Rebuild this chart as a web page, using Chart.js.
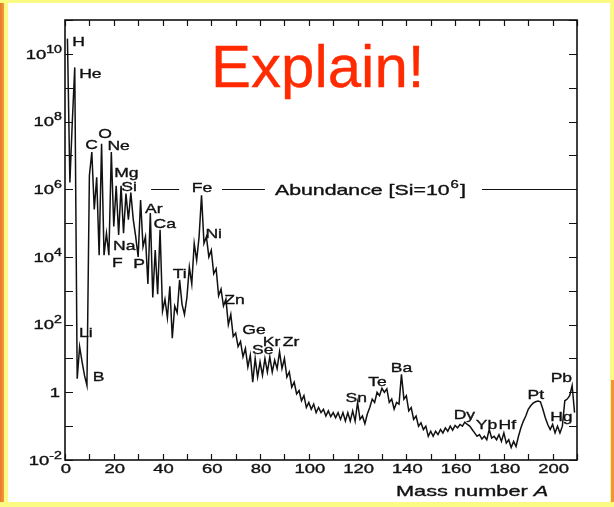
<!DOCTYPE html>
<html>
<head>
<meta charset="utf-8">
<script src="https://cdn.jsdelivr.net/npm/chart.js@4/dist/chart.umd.min.js"></script>
<style>
html,body{margin:0;padding:0;background:#fff;}
canvas{display:block;}
</style>
</head>
<body>
<canvas id="c" width="614" height="507"></canvas>
<script>
// ---- data ----
const massNumbers = Array.from({length: 209}, (_, i) => i + 1);
// log10 of abundance (Si = 10^6) for A = 1 .. 209
const logAbundance = [
 10.45, 6.2, 8.0, 9.6, 0.4, 1.35, 0.9, 0.5, 0.2, 6.4,
 7.1, 5.4, 6.35, 4.05, 7.34, 4.05, 4.7, 4.05, 7.1, 4.9,
 6.1, 4.65, 6.1, 4.7, 5.87, 5.1, 5.9, 5.1, 4.6, 4.0,
 5.68, 4.3, 4.6, 3.2, 5.3, 2.8, 4.2, 2.9, 4.8, 2.4,
 2.75, 2.2, 3.13, 1.6, 2.55, 2.35, 3.32, 2.6, 2.3, 2.8,
 3.7, 3.2, 4.4, 3.9, 4.6, 5.82, 4.4, 4.6, 4.0, 4.2,
 3.5, 3.65, 2.85, 3.05, 2.55, 2.75, 2.0, 2.3, 1.65, 1.75,
 1.35, 1.5, 1.05, 1.3, 0.75, 1.1, 0.3, 1.0, 0.45, 0.9,
 0.5, 1.0, 0.6, 1.05, 0.6, 0.95, 0.7, 1.2, 0.7, 1.0,
 0.45, 0.6, 0.15, 0.3, -0.05, 0.05, -0.25, -0.1, -0.45, -0.3,
 -0.5, -0.35, -0.6, -0.45, -0.6, -0.5, -0.7, -0.55, -0.72, -0.6,
 -0.75, -0.6, -0.8, -0.6, -0.85, -0.6, -0.85, -0.55, -0.85, -0.3,
 -0.8, -0.7, -0.93, -0.64, -0.45, -0.2, -0.3, 0.0, -0.1, 0.12,
 0.0, 0.1, -0.3, -0.2, -0.5, -0.3, -0.35, 0.53, -0.2, -0.1,
 -0.55, -0.45, -0.8, -0.7, -1.0, -0.9, -1.1, -1.0, -1.3, -1.15,
 -1.3, -1.15, -1.25, -1.1, -1.2, -1.05, -1.15, -1.0, -1.12, -0.98,
 -1.05, -0.95, -1.0, -0.88, -0.95, -1.0, -1.1, -1.2, -1.3, -1.25,
 -1.38, -1.3, -1.4, -1.1, -1.35, -1.3, -1.4, -1.25, -1.45, -1.2,
 -1.5, -1.4, -1.63, -1.45, -1.6, -1.3, -1.05, -0.85, -0.7, -0.5,
 -0.4, -0.32, -0.28, -0.26, -0.28, -0.5, -0.75, -0.95, -1.1, -0.95,
 -1.2, -1.0, -1.2, -1.0, -0.25, -0.2, -0.1, 0.2, -0.6
];
const xTickLabels = [0, 20, 40, 60, 80, 100, 120, 140, 160, 180, 200];
const xMinorTicks = [0,10,20,30,40,50,60,70,80,90,100,110,120,130,140,150,160,170,180,190,200,210];
const yTickExponents = [-2, 0, 2, 4, 6, 8, 10];
const yDecadeExponents = [-2,-1,0,1,2,3,4,5,6,7,8,9,10,11];
const elementNames = ['H','He','C','O','Ne','Mg','Si','Ar','Ca','Na','F','P','Ti','Fe','Ni','Zn','Ge','Se','Kr','Zr','Sn','Te','Ba','Dy','Yb','Hf','Pt','Hg','Pb','Li','B'];
// label anchors in data units (mass number, log10 abundance) — text left edge / cap centre
const elementAnchorA   = [3.0, 5.8, 8.3, 13.6, 17.4, 20.2, 23.1, 32.8, 36.3, 19.7, 19.3, 28.0, 44.2, 52.0, 57.6, 65.3, 72.7, 76.7, 81.1, 89.3, 115.1, 124.4, 133.6, 159.4, 168.5, 177.8, 189.7, 199.0, 199.2, 5.7, 11.4];
const elementAnchorLog = [10.38, 9.44, 7.34, 7.65, 7.29, 6.49, 6.09, 5.44, 5.0, 4.35, 3.85, 3.82, 3.53, 6.06, 4.71, 2.74, 1.85, 1.26, 1.5, 1.5, -0.15, 0.32, 0.74, -0.65, -0.94, -0.94, -0.06, -0.71, 0.44, 1.79, 0.47];
const abundanceRuleA = [[35.3, 46.8], [64.4, 82.0], [171.0, 210.0]];
const abundanceTextA = 86.1;

const FONT = '"Liberation Sans", Arial, Helvetica, sans-serif';

function stretchedText(ctx, s, x, y, size, sx, align, style) {
  ctx.save();
  ctx.font = (style || '') + ' ' + size + 'px ' + FONT;
  ctx.textBaseline = 'alphabetic';
  const w = ctx.measureText(s).width * sx;
  let left = x;
  if (align === 'center') left = x - w / 2;
  else if (align === 'right') left = x - w;
  ctx.translate(left, y);
  ctx.scale(sx, 1);
  ctx.textAlign = 'left';
  ctx.fillText(s, 0, 0);
  ctx.lineWidth = 0.35;
  ctx.strokeStyle = ctx.fillStyle;
  ctx.strokeText(s, 0, 0);
  ctx.restore();
  return w;
}
function textWidth(ctx, s, size, sx, style) {
  ctx.save();
  ctx.font = (style || '') + ' ' + size + 'px ' + FONT;
  const w = ctx.measureText(s).width * sx;
  ctx.restore();
  return w;
}

const decor = {
  id: 'decor',
  beforeDraw(chart) {
    const ctx = chart.ctx, W = chart.width, H = chart.height;
    ctx.save();
    ctx.fillStyle = '#ffffff';
    ctx.fillRect(0, 0, W, H);
    ctx.fillStyle = '#fbfb84';
    ctx.fillRect(0, 0, W, 3);
    ctx.fillRect(0, H - 5, W, 5);
    ctx.fillRect(0, 0, 8, H);
    ctx.fillRect(W - 4, 0, 4, H);
    const g = ctx.createLinearGradient(0, 0, 5, 0);
    g.addColorStop(0, '#e9792c');
    g.addColorStop(1, '#f4a43c');
    ctx.fillStyle = g;
    ctx.fillRect(0, 3, 4, H - 8);
    ctx.fillStyle = '#f0953a';
    ctx.fillRect(W - 3, 380, 3, H - 385);
    ctx.restore();
  },
  afterDraw(chart) {
    const ctx = chart.ctx, a = chart.chartArea;
    const xs = chart.scales.x, ys = chart.scales.y;
    ctx.save();
    ctx.fillStyle = '#111';
    ctx.strokeStyle = '#111';
    ctx.lineWidth = 1.6;
    ctx.strokeRect(a.left, a.top, a.right - a.left, a.bottom - a.top);
    ctx.lineWidth = 1.2;
    ctx.beginPath();
    xMinorTicks.forEach(v => {
      const px = Math.round(xs.getPixelForValue(v)) + 0.5;
      ctx.moveTo(px, a.bottom); ctx.lineTo(px, a.bottom - 6);
      ctx.moveTo(px, a.top); ctx.lineTo(px, a.top + 6);
    });
    yDecadeExponents.forEach(e => {
      const py = Math.round(ys.getPixelForValue(Math.pow(10, e))) + 0.5;
      ctx.moveTo(a.left, py); ctx.lineTo(a.left + 8, py);
      ctx.moveTo(a.right, py); ctx.lineTo(a.right - 8, py);
    });
    ctx.stroke();
    xTickLabels.forEach(v => {
      stretchedText(ctx, String(v), xs.getPixelForValue(v) + 1, a.bottom + 13, 13, 1.42, 'center');
    });
    const right = a.left - 3;
    yTickExponents.forEach(e => {
      const py = ys.getPixelForValue(Math.pow(10, e));
      const base = py + 4.7;
      if (e === 0) {
        stretchedText(ctx, '1', right - 2, base, 13, 1.42, 'right');
      } else {
        const sup = e < 0 ? '-' + (-e) : String(e);
        const wSup = textWidth(ctx, sup, 10, 1.42);
        const wMain = textWidth(ctx, '10', 13, 1.42);
        stretchedText(ctx, '10', right - wSup - wMain, base, 13, 1.42, 'left');
        stretchedText(ctx, sup, right - wSup, base - 6, 10, 1.42, 'left');
      }
    });
    elementNames.forEach((n, i) => {
      const px = xs.getPixelForValue(elementAnchorA[i]);
      const py = ys.getPixelForValue(Math.pow(10, elementAnchorLog[i]));
      stretchedText(ctx, n, px, py + 4.8, 13.5, 1.3, 'left');
    });
    const yr = Math.round(ys.getPixelForValue(1e6)) + 0.5;
    ctx.lineWidth = 1.1;
    ctx.beginPath();
    abundanceRuleA.forEach(([p, q]) => {
      ctx.moveTo(xs.getPixelForValue(p), yr);
      ctx.lineTo(xs.getPixelForValue(q), yr);
    });
    ctx.stroke();
    let tx = xs.getPixelForValue(abundanceTextA);
    tx += stretchedText(ctx, 'Abundance [Si=10', tx, yr + 5.3, 15, 1.42, 'left');
    tx += stretchedText(ctx, '6', tx + 1, yr - 1.5, 10.5, 1.42, 'left') + 2;
    stretchedText(ctx, ']', tx, yr + 5.3, 15, 1.42, 'left');
    let mx = 396;
    mx += stretchedText(ctx, 'Mass number ', mx, 496, 15, 1.45, 'left');
    stretchedText(ctx, 'A', mx, 496, 15, 1.45, 'left', 'italic');
    ctx.fillStyle = '#ff2a00';
    stretchedText(ctx, 'Explain!', 211, 87, 60, 1.0, 'left');
    ctx.restore();
  }
};

new Chart(document.getElementById('c'), {
  type: 'line',
  data: {
    datasets: [{
      label: 'Abundance',
      data: massNumbers.map((m, i) => ({x: m, y: Math.pow(10, logAbundance[i])})),
      borderColor: '#111111',
      borderWidth: 1.5,
      pointRadius: 0,
      tension: 0,
      fill: false
    }]
  },
  options: {
    responsive: false,
    animation: false,
    events: [],
    layout: {padding: {left: 65, top: 20, right: 37, bottom: 47}},
    plugins: {legend: {display: false}, tooltip: {enabled: false}},
    scales: {
      x: {type: 'linear', min: 0, max: 210, display: false},
      y: {type: 'logarithmic', min: 1e-2, max: 1e11, display: false}
    }
  },
  plugins: [decor]
});
</script>
</body>
</html>
